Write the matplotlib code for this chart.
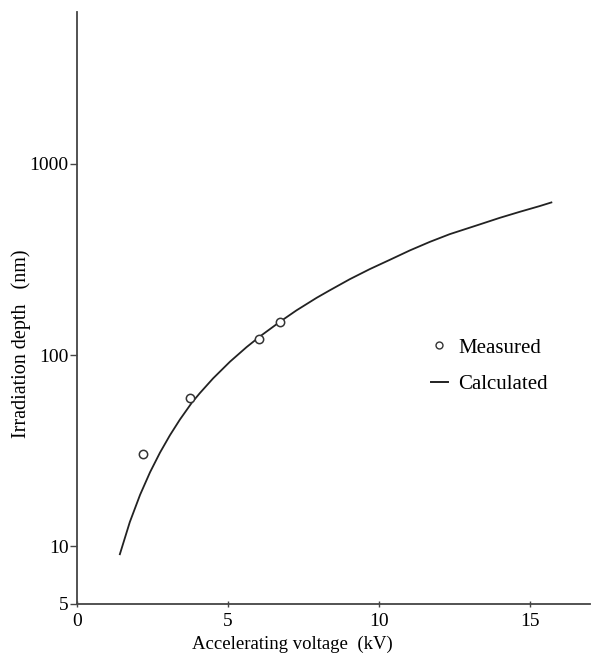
import matplotlib.pyplot as plt
from matplotlib.lines import Line2D

plt.rcParams['font.family'] = ['Liberation Serif', 'DejaVu Serif']

# Valores medidos
volt_medido = [2.19, 3.74, 6.03, 6.72]
prof_medida = [30.3, 59.6, 121, 149]

# Curva calculada
volt_calc = [1.42, 1.75, 2.09, 2.42, 2.75, 3.08, 3.41, 3.80, 4.07, 4.51,
             5.07, 5.62, 6.06, 6.72, 7.27, 7.94, 8.38, 9.04, 9.70, 10.36,
             11.03, 11.69, 12.35, 13.34, 14.01, 14.67, 15.33, 15.72]
prof_calc = [9.1, 13.4, 18.6, 24.4, 30.9, 38.1, 46.0, 56.2, 63.2, 75.5,
             92.3, 110, 125, 149, 171, 199, 218, 249, 281, 314,
             352, 390, 428, 481, 521, 560, 600, 627]

marcas_y = [5, 10, 100, 1000]
marcas_x = [0, 5, 10, 15]

fig = plt.figure(figsize=(5.95, 6.56), dpi=100)
ax = fig.add_axes([77 / 595, 52 / 656, 513 / 595, 592 / 656])

ax.plot(volt_calc, prof_calc, color='#222222', lw=1.3,
        solid_joinstyle='round')
ax.plot(volt_medido, prof_medida, 'o', mfc='white', mec='#333333',
        mew=1.1, ms=6, zorder=3)

ax.set_yscale('log')
ax.set_xlim(0, 17.0)
ax.set_ylim(5, 6200)
ax.set_yticks(marcas_y)
ax.set_yticklabels([str(v) for v in marcas_y])
ax.minorticks_off()
ax.set_xticks(marcas_x)
ax.set_xticklabels([str(v) for v in marcas_x])

for lado in ['top', 'right']:
    ax.spines[lado].set_visible(False)
for lado in ['left', 'bottom']:
    ax.spines[lado].set_color('#444444')
    ax.spines[lado].set_linewidth(1.3)

ax.tick_params(axis='y', direction='out', length=5, width=1, color='#444444',
               labelsize=14, pad=1)
ax.tick_params(axis='x', direction='inout', length=5, width=1, color='#444444',
               labelsize=14, pad=4)

ax.set_xlabel('Accelerating voltage  (kV)', fontsize=13.5)
ax.xaxis.set_label_coords((292 - 77) / 513, -(636 - 604) / 592)
ax.set_ylabel('Irradiation depth   (nm)', fontsize=14.5)
ax.yaxis.set_label_coords(-(77 - 31) / 513, (604 - 344) / 592)

manijas = [Line2D([], [], marker='o', ls='none', mfc='white', mec='#333333',
                  mew=1.0, ms=5),
           Line2D([], [], color='#222222', lw=1.4)]
ax.legend(manijas, ['Measured', 'Calculated'], frameon=False, fontsize=15,
          handlelength=0.8, handletextpad=0.5, labelspacing=0.8,
          loc='upper left', bbox_to_anchor=(431 / 595, 1 - 338 / 656),
          bbox_transform=fig.transFigure, borderaxespad=0, borderpad=0)

plt.savefig('out.png', dpi=100)
